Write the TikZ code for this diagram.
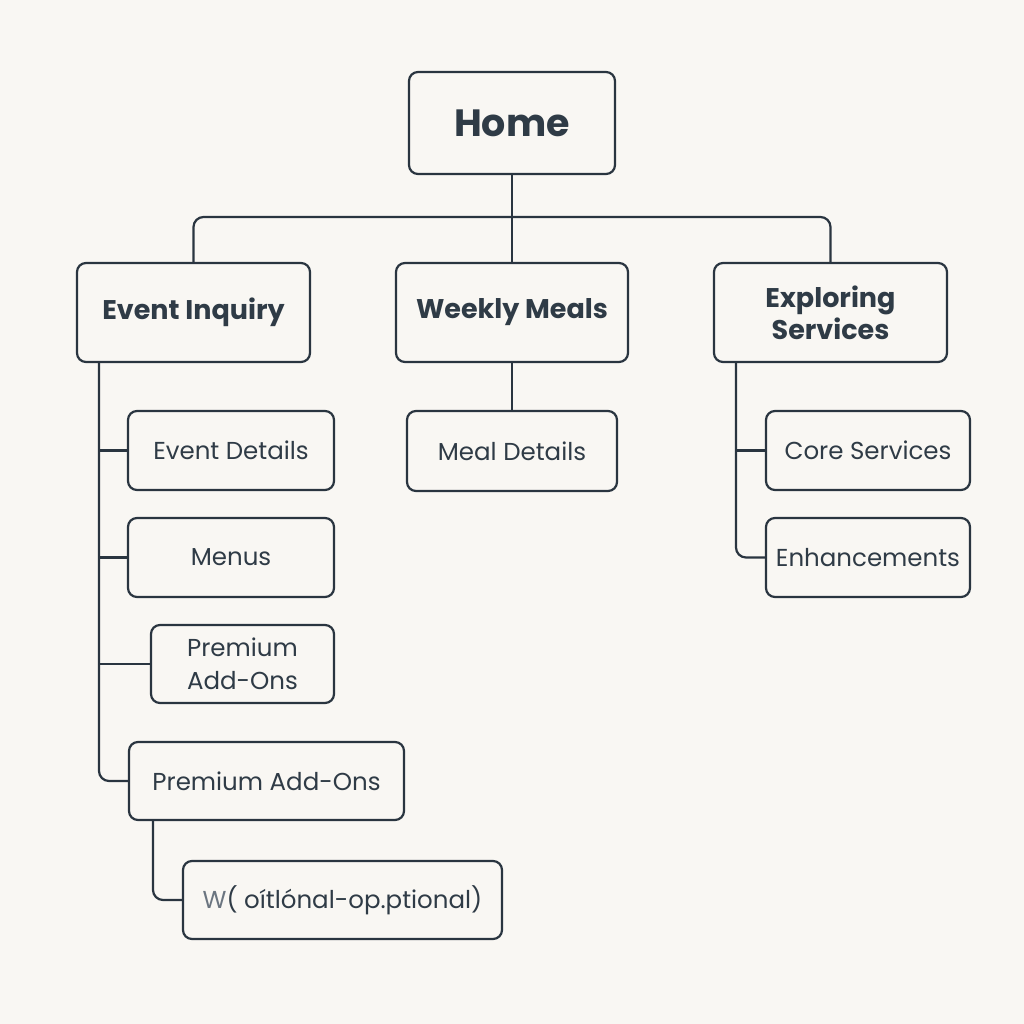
\documentclass[tikz,border=0pt]{standalone}
\usepackage{fontspec}
\setmainfont{Poppins}
\definecolor{bg}{HTML}{F9F7F3}
\definecolor{ink}{HTML}{2A3540}
\definecolor{txt}{HTML}{2F3B46}
\definecolor{greyw}{HTML}{6B7580}
\begin{document}
\begin{tikzpicture}[x=1pt,y=-1pt,
  box/.style={draw=ink,line width=2.2pt,rounded corners=9pt,fill=bg,inner sep=0pt,text=txt,align=center},
  conn/.style={draw=ink,line width=2.2pt,rounded corners=10pt},
  hfont/.style={font=\fontsize{27}{32}\selectfont\bfseries},
  nfont/.style={font=\fontsize{24.5}{32}\selectfont}]
\fill[bg] (0,0) rectangle (1024,1024);
\useasboundingbox (0,0) rectangle (1024,1024);
% boxes
\node[box,minimum width=206pt,minimum height=102pt,font=\fontsize{38}{44}\selectfont\bfseries] (home) at (512,123) {Home};
\node[box,hfont,minimum width=233pt,minimum height=99pt] (event) at (193.5,312.5) {Event Inquiry};
\node[box,hfont,minimum width=232pt,minimum height=99pt] (weekly) at (512,312.5) {Weekly Meals};
\node[box,hfont,minimum width=233pt,minimum height=99pt] (explore) at (830.5,312.5) {Exploring\\Services};
\node[box,nfont,minimum width=206pt,minimum height=79pt] (details) at (231,450.5) {Event Details};
\node[box,nfont,minimum width=206pt,minimum height=79pt] (menus) at (231,557.5) {Menus};
\node[box,nfont,minimum width=183pt,minimum height=78pt,font=\fontsize{24.5}{33}\selectfont] (prem1) at (242.5,664) {Premium\\Add-Ons};
\node[box,nfont,minimum width=275pt,minimum height=78pt] (prem2) at (266.5,781) {Premium Add-Ons};
\node[box,nfont,minimum width=319pt,minimum height=78pt] (opt) at (342.5,900) {\textcolor{greyw}{W}( oítlónal-op.ptional)};
\node[box,nfont,minimum width=210pt,minimum height=80pt] (meal) at (512,451) {Meal Details};
\node[box,nfont,minimum width=204pt,minimum height=79pt] (core) at (868,450.5) {Core Services};
\node[box,nfont,minimum width=204pt,minimum height=79pt] (enh) at (868,557.5) {Enhancements};
% connectors
\coordinate (j) at (512,217);
\draw[conn] (home.south) -- (j);
\draw[conn] (j) -- (193.5,217) -- (event.north);
\draw[conn] (j) -- (830.5,217) -- (explore.north);
\draw[conn] (j) -- (weekly.north);
\draw[conn] (weekly.south) -- (meal.north);
% left spine
\coordinate (ls) at (99,362);
\draw[conn] (ls) -- (99,781) -- (prem2.west);
\draw[conn] (99,450.5) -- (details.west);
\draw[conn] (99,557.5) -- (menus.west);
\draw[conn] (99,664) -- (prem1.west);
% prem2 to opt
\draw[conn] (153,820) -- (153,900) -- (opt.west);
% right spine
\draw[conn] (736,362) -- (736,557.5) -- (enh.west);
\draw[conn] (736,450.5) -- (core.west);
\end{tikzpicture}
\end{document}
